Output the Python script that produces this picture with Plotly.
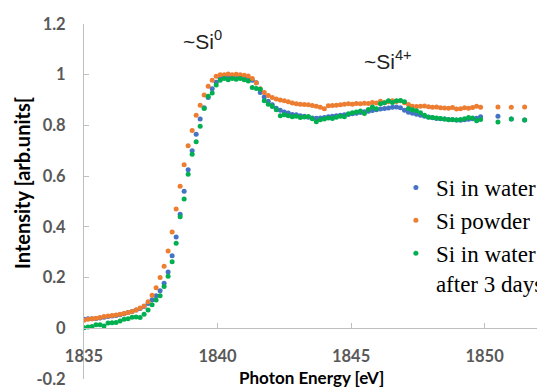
import plotly.graph_objects as go

energy = [1835.00, 1835.15, 1835.30, 1835.45, 1835.60, 1835.75, 1835.90, 1836.05, 1836.20, 1836.35,
          1836.50, 1836.65, 1836.80, 1836.95, 1837.10, 1837.25, 1837.40, 1837.55, 1837.70, 1837.85,
          1838.00, 1838.15, 1838.30, 1838.45, 1838.60, 1838.75, 1838.90, 1839.05, 1839.20, 1839.35,
          1839.50, 1839.65, 1839.80, 1839.95, 1840.10, 1840.25, 1840.40, 1840.55, 1840.70, 1840.85,
          1841.00, 1841.15, 1841.30, 1841.45, 1841.60, 1841.75, 1841.90, 1842.05, 1842.20, 1842.35,
          1842.50, 1842.65, 1842.80, 1842.95, 1843.10, 1843.25, 1843.40, 1843.55, 1843.70, 1843.85,
          1844.00, 1844.15, 1844.30, 1844.45, 1844.60, 1844.75, 1844.90, 1845.05, 1845.20, 1845.35,
          1845.50, 1845.65, 1845.80, 1845.95, 1846.10, 1846.25, 1846.40, 1846.55, 1846.70, 1846.85,
          1847.00, 1847.15, 1847.30, 1847.45, 1847.60, 1847.75, 1847.90, 1848.05, 1848.20, 1848.35,
          1848.50, 1848.65, 1848.80, 1848.95, 1849.10, 1849.25, 1849.40, 1849.55, 1849.70, 1849.85,
          1850.50, 1851.00, 1851.50]

si_in_water = [0.036, 0.038, 0.038, 0.039, 0.041, 0.044, 0.046, 0.048, 0.050, 0.053,
               0.057, 0.062, 0.066, 0.072, 0.078, 0.086, 0.098, 0.113, 0.128, 0.148,
               0.178, 0.222, 0.286, 0.360, 0.450, 0.540, 0.625, 0.700, 0.765, 0.825,
               0.870, 0.910, 0.945, 0.970, 0.985, 0.992, 0.995, 0.996, 0.994, 0.995,
               0.990, 0.985, 0.978, 0.968, 0.930, 0.912, 0.895, 0.882, 0.868, 0.860,
               0.853, 0.849, 0.843, 0.842, 0.838, 0.836, 0.832, 0.829, 0.828, 0.829,
               0.831, 0.834, 0.836, 0.838, 0.840, 0.842, 0.843, 0.846, 0.848, 0.851,
               0.854, 0.856, 0.859, 0.862, 0.865, 0.867, 0.869, 0.872, 0.873, 0.870,
               0.860, 0.852, 0.848, 0.844, 0.840, 0.836, 0.833, 0.830, 0.827, 0.826,
               0.825, 0.823, 0.822, 0.821, 0.820, 0.822, 0.824, 0.826, 0.828, 0.834,
               0.836, 0.825, 0.821]

si_powder = [0.032, 0.036, 0.038, 0.040, 0.043, 0.046, 0.048, 0.050, 0.052, 0.055,
             0.058, 0.062, 0.066, 0.072, 0.080, 0.088, 0.105, 0.130, 0.160, 0.200,
             0.245, 0.305, 0.380, 0.470, 0.560, 0.645, 0.720, 0.780, 0.840, 0.880,
             0.920, 0.955, 0.978, 0.994, 1.000, 1.000, 1.003, 1.000, 1.002, 1.000,
             0.998, 0.995, 0.985, 0.968, 0.945, 0.930, 0.918, 0.910, 0.904, 0.900,
             0.897, 0.893, 0.888, 0.885, 0.884, 0.883, 0.882, 0.879, 0.876, 0.872,
             0.866, 0.878, 0.879, 0.880, 0.882, 0.884, 0.885, 0.884, 0.886, 0.885,
             0.887, 0.886, 0.890, 0.888, 0.895, 0.889, 0.893, 0.897, 0.894, 0.897,
             0.889, 0.883, 0.876, 0.875, 0.876, 0.877, 0.874, 0.872, 0.873, 0.870,
             0.869, 0.868, 0.871, 0.865, 0.866, 0.870, 0.868, 0.871, 0.876, 0.872,
             0.873, 0.872, 0.873]

si_in_water_3days = [0.002, 0.005, 0.007, 0.014, 0.014, 0.009, 0.021, 0.022, 0.023, 0.029,
                     0.036, 0.038, 0.044, 0.045, 0.043, 0.055, 0.072, 0.093, 0.112, 0.128,
                     0.165, 0.205, 0.262, 0.335, 0.440, 0.510, 0.607, 0.686, 0.736, 0.797,
                     0.867, 0.915, 0.928, 0.959, 0.978, 0.985, 0.980, 0.985, 0.982, 0.985,
                     0.980, 0.975, 0.950, 0.946, 0.943, 0.897, 0.884, 0.875, 0.862, 0.838,
                     0.842, 0.838, 0.834, 0.836, 0.831, 0.833, 0.835, 0.826, 0.815, 0.822,
                     0.825, 0.829, 0.827, 0.832, 0.836, 0.834, 0.846, 0.850, 0.853, 0.857,
                     0.847, 0.863, 0.873, 0.866, 0.885, 0.889, 0.897, 0.890, 0.897, 0.898,
                     0.893, 0.867, 0.862, 0.858, 0.850, 0.840, 0.832, 0.831, 0.829, 0.827,
                     0.825, 0.822, 0.823, 0.821, 0.823, 0.826, 0.831, 0.829, 0.818, 0.823,
                     0.814, 0.825, 0.821]

series_names = ["Si in water", "Si powder", "Si in water<br>after 3 days"]
series_colors = ["#4472C4", "#ED7D31", "#00B050"]

y_tickvals = [-0.2, 0, 0.2, 0.4, 0.6, 0.8, 1.0, 1.2]
y_ticktext = ["-0.2", "0", "0.2", "0.4", "0.6", "0.8", "1", "1.2"]
x_tickvals = [1835, 1840, 1845, 1850]
x_ticktext = ["1835", "1840", "1845", "1850"]

fig = go.Figure()
for name, vals, col in zip(series_names, [si_in_water, si_powder, si_in_water_3days], series_colors):
    fig.add_trace(go.Scatter(x=energy, y=vals, mode="markers", name=name,
                             marker=dict(color=col, size=5, line=dict(width=0))))

tick_font = dict(family="Lato", size=16.5, color="#595959", weight="bold")

# the page body adds an 8px offset, so the figure is 8px smaller than the window
fig.update_layout(
    width=537, height=380,
    margin=dict(l=76, r=7, t=16, b=9, autoexpand=False),
    paper_bgcolor="white", plot_bgcolor="white",
    showlegend=True,
    legend=dict(x=0.687, y=0.60, xanchor="left", yanchor="top",
                font=dict(family="Liberation Serif", size=23, color="black"),
                bgcolor="rgba(0,0,0,0)", valign="top", itemwidth=30),
    xaxis=dict(range=[1835, 1852], anchor="free", position=0.2 / 1.4,
               tickvals=x_tickvals, ticktext=x_ticktext,
               showline=True, linecolor="#BFBFBF", linewidth=1,
               ticks="inside", ticklen=5, tickcolor="#BFBFBF",
               showgrid=False, zeroline=False, tickfont=tick_font,
               ticklabelstandoff=13, automargin=False, ticklabeloverflow="allow"),
    yaxis=dict(range=[-0.2, 1.2], tickvals=y_tickvals, ticktext=y_ticktext,
               showline=True, linecolor="#BFBFBF", linewidth=1,
               ticks="inside", ticklen=5, tickcolor="#BFBFBF",
               showgrid=False, zeroline=False, tickfont=tick_font,
               ticklabelstandoff=14, automargin=False, ticklabeloverflow="allow"),
    annotations=[
        dict(text="Photon Energy [eV]", xref="paper", yref="paper", x=0.5, y=(379 - 377) / 355,
             xanchor="center", yanchor="middle", showarrow=False,
             font=dict(family="Lato", size=17, color="black", weight="bold")),
        dict(text="Intensity [arb.units[", xref="paper", yref="paper", x=(22 - 84) / 454, y=(379 - 183) / 355,
             xanchor="center", yanchor="middle", showarrow=False, textangle=-90,
             font=dict(family="Lato", size=20, color="black", weight="bold")),
        dict(text="~Si<sup>0</sup>", xref="paper", yref="paper", x=(181 - 84) / 454, y=(379 - 40) / 355,
             xanchor="left", yanchor="middle", showarrow=False,
             font=dict(family="Liberation Sans", size=21, color="#222222")),
        dict(text="~Si<sup>4+</sup>", xref="paper", yref="paper", x=(362 - 84) / 454, y=(379 - 60) / 355,
             xanchor="left", yanchor="middle", showarrow=False,
             font=dict(family="Liberation Sans", size=21, color="#222222")),
    ],
)

fig.write_html("out.html")
